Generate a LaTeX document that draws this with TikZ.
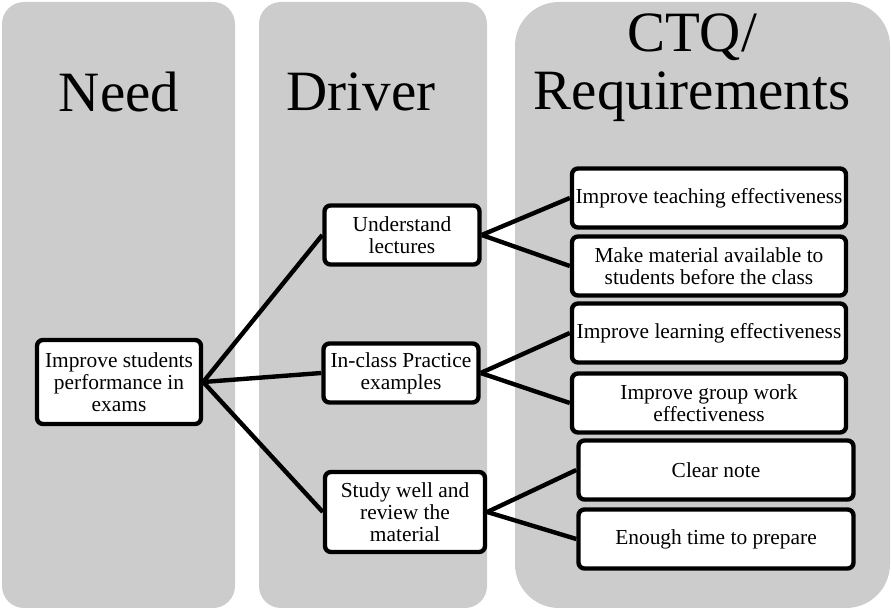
\documentclass[tikz,border=0pt]{standalone}
\usepackage{fontspec}
\setmainfont{Liberation Serif}
\definecolor{colgray}{HTML}{CCCCCC}
\begin{document}
\begin{tikzpicture}[x=0.5pt,y=-0.5pt,
  column/.style={fill=colgray, rounded corners=11pt},
  head/.style={align=center, font=\fontsize{28.5}{29}\selectfont},
  item/.style={draw, fill=white, line width=2.2pt, rounded corners=3pt, align=center, inner sep=1pt, font=\fontsize{10.7}{11}\selectfont},
  driver/.style={item, minimum width=77.5pt, minimum height=29.5pt},
  ctq/.style={item, minimum width=137pt, minimum height=29.5pt},
  link/.style={line width=2.2pt}]
\useasboundingbox (0,0) rectangle (891,610);

\fill[column] (2,2) rectangle (235,608);
\fill[column] (259,2) rectangle (487,608);
\fill[column, rounded corners=22pt] (515,2) rectangle (890,608);

\node[head] (needhead) at (119,92) {Need};
\node[head] (driverhead) at (361,92) {Driver};
\node[head] (ctqhead) at (692,68) {CTQ/\\Requirements};

\node[item, minimum width=82pt, minimum height=42pt] (need) at (119,382) {Improve students\\performance in\\exams};

\node[driver] (lect) at (402,235) {Understand\\lectures};
\node[driver] (prac) at (401,373) {In-class Practice\\examples};
\node[driver, minimum width=80pt, minimum height=40pt] (study) at (405,512) {Study well and\\review the\\material};

\node[ctq] (teach) at (709,198) {Improve teaching effectiveness};
\node[ctq] (avail) at (709,266) {Make material available to\\students before the class};
\node[ctq] (learn) at (709,333) {Improve learning effectiveness};
\node[ctq] (group) at (709,403) {Improve group work\\effectiveness};
\node[ctq, minimum width=137.5pt] (note) at (716,470) {Clear note};
\node[ctq, minimum width=137.5pt] (time) at (716,539) {Enough time to prepare};

\draw[link] (need.east) -- (lect.west);
\draw[link] (need.east) -- (prac.west);
\draw[link] (need.east) -- (study.west);

\draw[link] (lect.east) -- (teach.west);
\draw[link] (lect.east) -- (avail.west);
\draw[link] (prac.east) -- (learn.west);
\draw[link] (prac.east) -- (group.west);
\draw[link] (study.east) -- (note.west);
\draw[link] (study.east) -- (time.west);
\end{tikzpicture}
\end{document}
